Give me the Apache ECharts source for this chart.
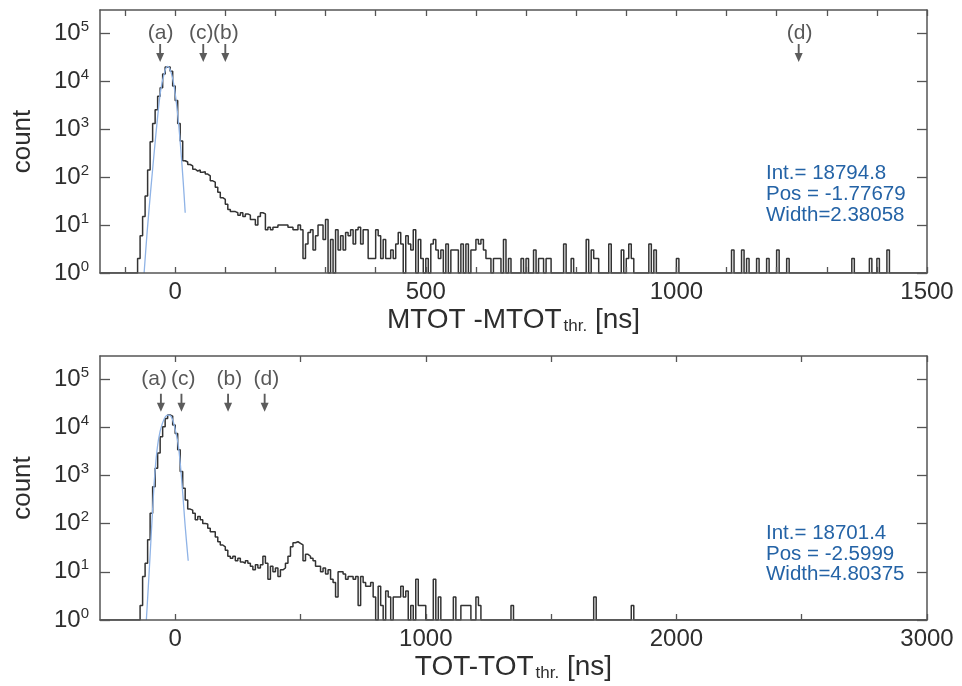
<!DOCTYPE html>
<html><head><meta charset="utf-8">
<script src="https://cdn.jsdelivr.net/npm/echarts@6/dist/echarts.min.js"></script>
<style>html,body{margin:0;padding:0;background:#fff}#c{width:962px;height:686px}</style>
</head><body><div id="c"></div>
<script>
// ---------- data ----------
const topBinStart = -150, topBinWidth = 5;
const topCounts = [
 1,1,1,1,1,1,1,1,1,1,
 1,1,1,1,1,2,6,15,40,140,
 540,1300,2500,4800,7200,14000,19500,19500,16000,7800,
 3900,1300,560,218,205,182,170,145,133,140,
 126,128,115,105,83,78,61,48,37,34,
 27,21,19,19,18,16,18,15,17,16,
 13,13,10,15,18,17,8,9,8,9,
 9,10,10,10,10,9,9,8,8,10,
 8,2,4,7,8,3,6,10,10,5,
 13,1,5,1,8,3,6,3,7,6,
 8,4,8,9,4,8,8,2,2,2,
 8,6,2,5,2,2,3,2,4,7,
 4,1,6,4,3,8,1,5,2,1,
 2,1,4,5,3,2,3,1,4,1,
 3,3,3,1,4,1,4,1,3,3,
 5,4,5,3,2,2,1,2,2,2,
 1,5,1,2,1,1,1,1,2,1,
 2,1,1,3,1,2,2,1,2,2,
 1,1,1,1,1,4,1,1,2,1,
 1,1,1,1,5,1,3,2,2,1,
 1,1,1,4,1,1,1,1,3,1,
 2,4,2,1,1,1,1,1,1,4,
 1,3,1,1,1,1,1,1,1,1,
 2,1,1,1,1,1,1,1,1,1,
 1,1,1,1,1,1,1,1,1,1,
 1,1,3,1,1,1,3,1,2,1,
 1,1,2,1,1,1,2,1,1,1,
 3,1,1,1,2,1,1,1,1,1,
 1,1,1,1,1,1,1,1,1,1,
 1,1,1,1,1,1,1,1,1,1,
 2,1,1,1,1,1,1,2,1,1,
 2,1,1,1,3,1,1,1,1,1,
 1,1,1,1,1,1,1,1,1,1
];
const botBinStart = -300, botBinWidth = 10;
const botCounts = [
 1,1,1,1,1,1,1,1,1,1,
 1,1,1,1,1,1,2,8,15,46,
 163,580,1400,2900,6300,10200,15200,17900,17000,11100,
 7400,3400,1200,540,310,200,190,163,120,140,
 120,100,98,80,68,68,53,42,36,33,
 28,21,19,21,17,19,16,15,17,15,
 13,11,14,12,14,21,15,7,13,10,
 12,8,11,12,15,21,33,40,42,39,
 36,17,23,21,19,17,13,13,10,12,
 9,11,7,6,3,10,10,9,7,8,
 8,7,8,2,8,6,5,5,6,3,
 1,5,2,1,4,3,1,3,3,3,
 5,3,4,1,2,1,7,2,2,2,
 1,1,1,7,1,3,1,1,1,1,
 1,3,1,1,2,2,2,2,1,1,
 3,2,1,1,1,1,1,1,1,1,
 1,1,1,1,2,1,1,1,1,1,
 1,1,1,1,1,1,1,1,1,1,
 1,1,1,1,1,1,1,1,1,1,
 1,1,1,1,1,1,1,3,1,1,
 1,1,1,1,1,1,1,1,1,1,
 1,1,2,1,1,1,1,1,1,1,
 1,1,1,1,1,1,1,1,1,1,
 1,1,1,1,1,1,1,1,1,1,
 1,1,1,1,1,1,1,1,1,1,
 1,1,1,1,1,1,1,1,1,1,
 1,1,1,1,1,1,1,1,1,1,
 1,1,1,1,1,1,1,1,1,1,
 1,1,1,1,1,1,1,1,1,1,
 1,1,1,1,1,1,1,1,1,1,
 1,1,1,1,1,1,1,1,1,1,
 1,1,1,1,1,1,1,1,1,1,
 1,1,1,1,1,1,1,1,1,1
];
const topFitX = [-62,-56,-49,-42,-35,-29,-22,-15.5,-9,-2,5,11,16,20];
const topFitY = [1,7,50,316,1800,6300,14000,20000,16000,7600,2000,400,80,18];
const botFitX = [-115,-101,-91,-80,-67,-51,-31,-17,-4,13,27,40,52];
const botFitY = [1,18,160,1300,5400,12000,17800,17000,11000,4000,690,87,17];

const markNames = ['(a)','(c)','(b)','(d)'];
const topMarkX = [-30,56,100,1244];
const topMarkLabelX = [-29,52,101,1246];
const botMarkX = [-57,25,211,357];
const botMarkLabelX = [-84,32,216,364];
const topArrowY = 38000, botArrowY = 32000, markLabelY = 100000;

const topXTicks = [-100,0,100,200,300,400,500,600,700,800,900,1000,1100,1200,1300,1400,1500];
const topXLabels = [0,500,1000,1500];
const botXTicks = [0,500,1000,1500,2000,2500,3000];
const botXLabels = [0,1000,2000,3000];
const yTicks = [1,10,100,1000,10000,100000];
const topFitText = ['Int.= 18794.8','Pos = -1.77679','Width=2.38058'];
const botFitText = ['Int.= 18701.4','Pos = -2.5999','Width=4.80375'];

// ---------- build ----------
const FONT = "'Liberation Sans', Arial, sans-serif";
const TXT = '#2e2e2e';
const FRAME = '#555';
function hist(start, w, counts){
  const d = counts.map((c,i)=>[start+i*w, c]);
  d.push([start+counts.length*w, counts[counts.length-1]]);
  return d;
}
function zip(xs, ys){ return xs.map((x,i)=>[x, ys[i]]); }
const arrowPath = 'path://M2.3,0 L3.7,0 L3.7,9 L6,9 L3,18 L0,9 L2.3,9 Z';

function xAxes(grid, min, max, ticks, labels, name, pos){
  const base = {
    type:'value', gridIndex:grid, min:min, max:max, position:pos, z:5,
    splitLine:{show:false},
    axisLine:{show:true, onZero:false, lineStyle:{color:FRAME, width:1.5}},
    axisTick:{show:true, inside:true, length:6, customValues:ticks, lineStyle:{color:FRAME, width:1.3}},
  };
  if (pos === 'bottom') {
    base.axisLabel = {show:true, customValues:labels, fontSize:24, color:TXT, fontFamily:FONT, margin:7,
      formatter:v=>String(v)};
    base.name = name;
    base.nameLocation = 'middle';
    base.nameGap = 30;
    base.nameTextStyle = {fontSize:28, color:TXT, fontFamily:FONT, lineHeight:30,
      rich:{sub:{fontSize:17, color:TXT, fontFamily:FONT, lineHeight:30, verticalAlign:'bottom', padding:[12,0,0,2]}}};
  } else {
    base.axisLabel = {show:false};
  }
  return base;
}
function yAxes(grid, pos){
  const base = {
    type:'log', logBase:10, gridIndex:grid, min:1, max:300000, position:pos, z:5,
    splitLine:{show:false}, minorTick:{show:false},
    axisLine:{show:true, onZero:false, lineStyle:{color:FRAME, width:1.5}},
    axisTick:{show:true, inside:true, length:10, customValues:yTicks, lineStyle:{color:FRAME, width:1.3}},
  };
  if (pos === 'left') {
    base.axisLabel = {show:true, customValues:yTicks, fontSize:24, color:TXT, fontFamily:FONT, margin:11,
      lineHeight:28,
      formatter:v=>'10{sup|'+Math.round(Math.log10(v))+'}',
      rich:{sup:{fontSize:15, color:TXT, fontFamily:FONT, verticalAlign:'top', lineHeight:12}}};
    base.name = 'count';
    base.nameLocation = 'middle';
    base.nameGap = 64;
    base.nameRotate = 90;
    base.nameTextStyle = {fontSize:26, color:TXT, fontFamily:FONT};
  } else {
    base.axisLabel = {show:false};
  }
  return base;
}
function panelSeries(xi, yi, histD, fitD, mx, mlx, arrowY){
  return [
    {type:'line', xAxisIndex:xi, yAxisIndex:yi, step:'end', symbol:'none', data:histD,
     lineStyle:{color:'#333', width:1.5}, z:2, silent:true},
    {type:'line', xAxisIndex:xi, yAxisIndex:yi, smooth:0.35, symbol:'none', data:fitD,
     lineStyle:{color:'#8fb3e6', width:1.3}, z:3, silent:true},
    {type:'scatter', xAxisIndex:xi, yAxisIndex:yi, symbol:arrowPath, symbolSize:[8,18],
     itemStyle:{color:'#333'}, data:mx.map(x=>[x, arrowY]), z:4, silent:true},
    {type:'scatter', xAxisIndex:xi, yAxisIndex:yi, symbolSize:0,
     label:{show:true, position:'inside', formatter:p=>p.name, fontSize:21, color:TXT, fontFamily:FONT},
     data:mlx.map((x,i)=>({name:markNames[i], value:[x, markLabelY]})), z:4, silent:true}
  ];
}

const option = {
  animation:false,
  backgroundColor:'#fff',
  grid:[
    {left:100, top:10, width:827, height:263},
    {left:100, top:356, width:827, height:264}
  ],
  xAxis:[
    xAxes(0,-150,1500,topXTicks,topXLabels,'MTOT -MTOT{sub|thr.} [ns]','bottom'),
    xAxes(0,-150,1500,topXTicks,topXLabels,'','top'),
    xAxes(1,-300,3000,botXTicks,botXLabels,'TOT-TOT{sub|thr.} [ns]','bottom'),
    xAxes(1,-300,3000,botXTicks,botXLabels,'','top')
  ],
  yAxis:[yAxes(0,'left'), yAxes(0,'right'), yAxes(1,'left'), yAxes(1,'right')],
  series:[].concat(
    panelSeries(0,0,hist(topBinStart,topBinWidth,topCounts),zip(topFitX,topFitY),topMarkX,topMarkLabelX,topArrowY),
    panelSeries(2,2,hist(botBinStart,botBinWidth,botCounts),zip(botFitX,botFitY),botMarkX,botMarkLabelX,botArrowY)
  ),
  graphic:[
    {type:'text', left:766, top:163, style:{text:topFitText.join('\n'), fontSize:20.5, fontFamily:FONT, fill:'#2463a6', lineHeight:21}},
    {type:'text', left:766, top:523, style:{text:botFitText.join('\n'), fontSize:20.5, fontFamily:FONT, fill:'#2463a6', lineHeight:20.5}}
  ]
};
const chart = echarts.init(document.getElementById('c'), null, {renderer:'canvas'});
chart.setOption(option);
</script></body></html>
